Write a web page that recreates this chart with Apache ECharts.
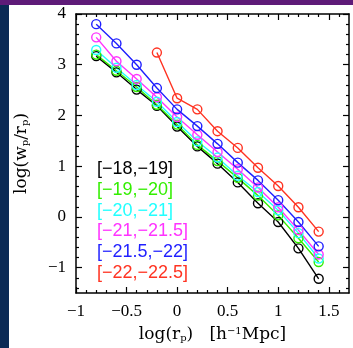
<!DOCTYPE html>
<html>
<head>
<meta charset="utf-8">
<script src="https://cdn.jsdelivr.net/npm/echarts@6/dist/echarts.min.js"></script>
<style>
  html, body { margin: 0; padding: 0; background: #fff; }
  #chart { width: 353px; height: 348px; }
</style>
</head>
<body>
<div id="chart"></div>
<script>
// 横轴 log(rp) 的取值
const xs = [-0.8, -0.6, -0.4, -0.2, 0, 0.2, 0.4, 0.6, 0.8, 1.0, 1.2, 1.4]
const xsRed = [-0.2, 0, 0.2, 0.4, 0.6, 0.8, 1.0, 1.2, 1.4]

// 各光度区间的 log(wp/rp)
const black = [3.17, 2.85, 2.51, 2.19, 1.78, 1.39, 1.05, 0.68, 0.27, -0.10, -0.62, -1.22]
const green = [3.20, 2.88, 2.56, 2.21, 1.82, 1.42, 1.10, 0.77, 0.42, 0.03, -0.42, -0.89]
const cyan = [3.29, 2.94, 2.60, 2.27, 1.87, 1.49, 1.17, 0.81, 0.49, 0.13, -0.32, -0.82]
const magenta = [3.54, 3.07, 2.72, 2.36, 1.97, 1.62, 1.28, 0.94, 0.58, 0.19, -0.26, -0.74]
const blue = [3.80, 3.42, 3.00, 2.54, 2.12, 1.79, 1.44, 1.07, 0.72, 0.33, -0.10, -0.58]
const red = [3.24, 2.34, 2.12, 1.69, 1.36, 0.97, 0.61, 0.19, -0.29]

const names = ['[-18,-19]', '[-19,-20]', '[-20,-21]', '[-21,-21.5]', '[-21.5,-22]', '[-22,-22.5]']

// 刻度
const xMajor = [-1, -0.5, 0, 0.5, 1, 1.5]
const xMinor = [-0.9, -0.8, -0.7, -0.6, -0.4, -0.3, -0.2, -0.1, 0.1, 0.2, 0.3, 0.4,
  0.6, 0.7, 0.8, 0.9, 1.1, 1.2, 1.3, 1.4, 1.6]
const yMajor = [-1, 0, 1, 2, 3, 4]
const yMinor = [-1.4, -1.2, -0.8, -0.6, -0.4, -0.2, 0.2, 0.4, 0.6, 0.8, 1.2, 1.4, 1.6, 1.8,
  2.2, 2.4, 2.6, 2.8, 3.2, 3.4, 3.6, 3.8]

const colors = ['#000000', '#33ee00', '#22ffff', '#ff33ff', '#1f1fff', '#ff3322']
const seriesY = [black, green, cyan, magenta, blue, red]

const minus = v => String(v).replace('-', '\u2212')
const tickFont = 'Liberation Serif'

function makeAxis(pos, min, max, ticks, major, label) {
  return {
    type: 'value',
    position: pos,
    min: min,
    max: max,
    axisLine: { show: major, onZero: false, lineStyle: { color: '#000', width: 1.5 } },
    axisTick: { show: true, inside: true, length: major ? 6 : 3, customValues: ticks,
      lineStyle: { color: '#000', width: 1.2 } },
    axisLabel: label ? {
      show: true, customValues: ticks, margin: 10, color: '#000',
      fontFamily: tickFont, fontSize: 17, formatter: minus
    } : { show: false },
    splitLine: { show: false }
  }
}

const xAxes = [
  makeAxis('bottom', -1, 1.7, xMajor, true, true),
  makeAxis('bottom', -1, 1.7, xMinor, false, false),
  makeAxis('top', -1, 1.7, xMajor, true, false),
  makeAxis('top', -1, 1.7, xMinor, false, false)
]
xAxes[0].name = 'log(r{s|p})   [h{u|\u22121}Mpc]'
xAxes[0].nameLocation = 'middle'
xAxes[0].nameGap = 33
xAxes[0].nameTextStyle = {
  fontFamily: 'DejaVu Serif', fontSize: 17, color: '#000',
  rich: {
    s: { fontFamily: 'DejaVu Serif', fontSize: 10, verticalAlign: 'bottom', lineHeight: 10 },
    u: { fontFamily: 'DejaVu Serif', fontSize: 10, verticalAlign: 'top', lineHeight: 10 }
  }
}

const yAxes = [
  makeAxis('left', -1.5, 4, yMajor, true, true),
  makeAxis('left', -1.5, 4, yMinor, false, false),
  makeAxis('right', -1.5, 4, yMajor, true, false),
  makeAxis('right', -1.5, 4, yMinor, false, false)
]
yAxes[0].name = 'log(w{s|p}/r{s|p})'
yAxes[0].nameLocation = 'middle'
yAxes[0].nameGap = 46
yAxes[0].nameTextStyle = {
  fontFamily: 'DejaVu Serif', fontSize: 17, color: '#000',
  rich: {
    s: { fontFamily: 'DejaVu Serif', fontSize: 10, verticalAlign: 'bottom', lineHeight: 10 }
  }
}

const series = seriesY.map((ys, i) => {
  const xv = ys.length === xs.length ? xs : xsRed
  return {
    name: names[i],
    type: 'line',
    xAxisIndex: 0,
    yAxisIndex: 0,
    data: ys.map((y, j) => [xv[j], y]),
    symbol: 'circle',
    symbolSize: 9,
    itemStyle: { color: 'rgba(0,0,0,0)', borderColor: colors[i], borderWidth: 1.4 },
    lineStyle: { color: colors[i], width: 1.4 },
    emphasis: { disabled: true },
    animation: false
  }
})

// 图例：文字
const legendTexts = names.map((n, i) => ({
  type: 'text',
  x: 97,
  y: 169 + i * 20.8,
  style: {
    text: minus(minus(n)),
    fill: colors[i],
    font: '18px "Liberation Sans"',
    verticalAlign: 'middle'
  }
}))

const chart = echarts.init(document.getElementById('chart'))
chart.setOption({
  backgroundColor: '#fff',
  animation: false,
  grid: { left: 76, top: 14, width: 273, height: 283 },
  xAxis: xAxes,
  yAxis: yAxes,
  series: series,
  graphic: [
    { type: 'rect', shape: { x: 0, y: 0, width: 9, height: 348 }, style: { fill: '#0b2a55' }, z: -1 },
    { type: 'rect', shape: { x: 0, y: 0, width: 353, height: 5 }, style: { fill: '#5e1b78' }, z: -1 }
  ].concat(legendTexts)
})
</script>
</body>
</html>
